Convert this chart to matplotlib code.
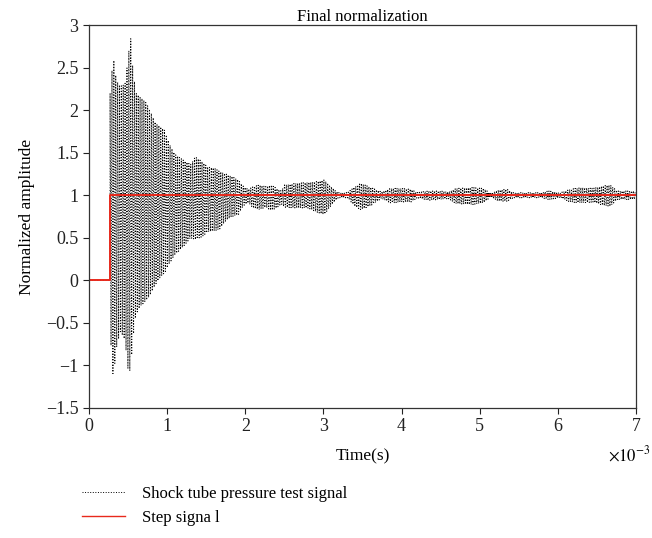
import numpy as np
import matplotlib
matplotlib.use("Agg")
import matplotlib.pyplot as plt
from matplotlib.lines import Line2D

plt.rcParams['font.family'] = ['Liberation Serif', 'DejaVu Serif']
plt.rcParams['mathtext.fontset'] = 'stix'

# ---- data (time in ms) ----
step_time = 0.27
step_level = 1.0
t_end = 7.0

env_t = [0.27, 0.31, 0.35, 0.40, 0.46, 0.50, 0.53, 0.56, 0.60, 0.66, 0.72, 0.78,
         0.85, 0.92, 0.97, 1.03, 1.10, 1.21, 1.30, 1.36, 1.44, 1.52, 1.60, 1.67,
         1.75, 1.83, 1.91, 1.98, 2.04, 2.10, 2.18, 2.26, 2.33, 2.40, 2.46, 2.50,
         2.65, 2.80, 2.92, 3.01, 3.10, 3.19, 3.31, 3.40, 3.48, 3.61, 3.74, 3.86,
         4.00, 4.12, 4.20, 4.34, 4.50, 4.60, 4.70, 4.90, 5.05, 5.14, 5.23, 5.35,
         5.43, 5.60, 5.78, 5.88, 6.03, 6.16, 6.30, 6.45, 6.58, 6.67, 6.76, 6.97, 7.00]
env_hi = [2.20, 2.64, 2.35, 2.28, 2.30, 2.60, 2.89, 2.50, 2.20, 2.15, 2.10, 2.00,
          1.85, 1.80, 1.76, 1.60, 1.48, 1.41, 1.36, 1.45, 1.40, 1.33, 1.32, 1.28,
          1.25, 1.22, 1.18, 1.10, 1.07, 1.10, 1.12, 1.10, 1.12, 1.08, 1.05, 1.12,
          1.14, 1.15, 1.16, 1.18, 1.10, 1.03, 1.03, 1.10, 1.14, 1.09, 1.04, 1.08,
          1.08, 1.07, 1.03, 1.05, 1.05, 1.04, 1.08, 1.09, 1.08, 1.02, 1.06, 1.07,
          1.03, 1.03, 1.03, 1.05, 1.03, 1.07, 1.09, 1.08, 1.11, 1.12, 1.05, 1.05, 1.04]
env_lo = [-0.60, -1.15, -0.80, -0.60, -0.70, -1.05, -1.07, -0.70, -0.40, -0.30, -0.25, -0.18,
          -0.05, 0.05, 0.09, 0.20, 0.30, 0.40, 0.50, 0.48, 0.51, 0.57, 0.58, 0.60,
          0.70, 0.75, 0.77, 0.88, 0.91, 0.85, 0.83, 0.86, 0.82, 0.85, 0.90, 0.86,
          0.85, 0.85, 0.80, 0.77, 0.88, 0.97, 0.97, 0.87, 0.83, 0.88, 0.96, 0.91,
          0.92, 0.92, 0.97, 0.94, 0.95, 0.96, 0.90, 0.89, 0.91, 0.98, 0.93, 0.93,
          0.97, 0.97, 0.97, 0.95, 0.97, 0.92, 0.91, 0.92, 0.88, 0.87, 0.95, 0.95, 0.96]

x_ticks = [0, 1, 2, 3, 4, 5, 6, 7]
y_ticks = [-1.5, -1, -0.5, 0, 0.5, 1, 1.5, 2, 2.5, 3]

# ---- build traces ----
ts = np.arange(step_time, t_end, 0.012)
hi = np.interp(ts, env_t, env_hi)
lo = np.interp(ts, env_t, env_lo)
sig = np.where(np.arange(len(ts)) % 2 == 0, hi, lo)
sig_t = np.concatenate([[0.0, step_time], ts])
sig_v = np.concatenate([[0.0, 0.0], sig])

step_t = [0.0, step_time, step_time, t_end]
step_v = [0.0, 0.0, step_level, step_level]

fig = plt.figure(figsize=(6.52, 5.38), dpi=100)
ax = fig.add_axes([89/652, 1-408/538, (636-89)/652, (408-25)/538])

ax.plot(sig_t, sig_v, color='black', linestyle=':', linewidth=0.75)
ax.plot(step_t, step_v, color='#e8291c', linewidth=1.4)

ax.set_xlim(0, 7)
ax.set_ylim(-1.5, 3)
ax.set_xticks(x_ticks)
ax.set_xticklabels([str(v) for v in x_ticks])
ax.set_yticks(y_ticks)
ax.set_yticklabels([('\u2212' if v < 0 else '') + ('%g' % abs(v)) for v in y_ticks])
ax.tick_params(direction='out', length=4, width=0.8, labelsize=13, colors='#222222',
               top=False, right=False)
for s in ax.spines.values():
    s.set_linewidth(0.9)
    s.set_color('#333333')

ax.set_title('Final normalization', fontsize=12, pad=3)
ax.set_xlabel('Time(s)', fontsize=12.5, labelpad=9)
ax.set_ylabel('Normalized amplitude', fontsize=12.5, labelpad=8)
fig.text(651/652, 1-455/538, r'$\times10^{-3}$', ha='right', va='center', fontsize=12)

handles = [Line2D([0], [0], color='black', linestyle=':', linewidth=0.7),
           Line2D([0], [0], color='#e8291c', linewidth=1.0)]
fig.legend(handles, ['Shock tube pressure test signal', 'Step signa l'],
           loc='upper left', bbox_to_anchor=(82/652, 1-486/538), frameon=False,
           fontsize=12, handlelength=2.6, handletextpad=1.0, labelspacing=0.45,
           borderpad=0, borderaxespad=0)

fig.savefig('out.png', dpi=100)
